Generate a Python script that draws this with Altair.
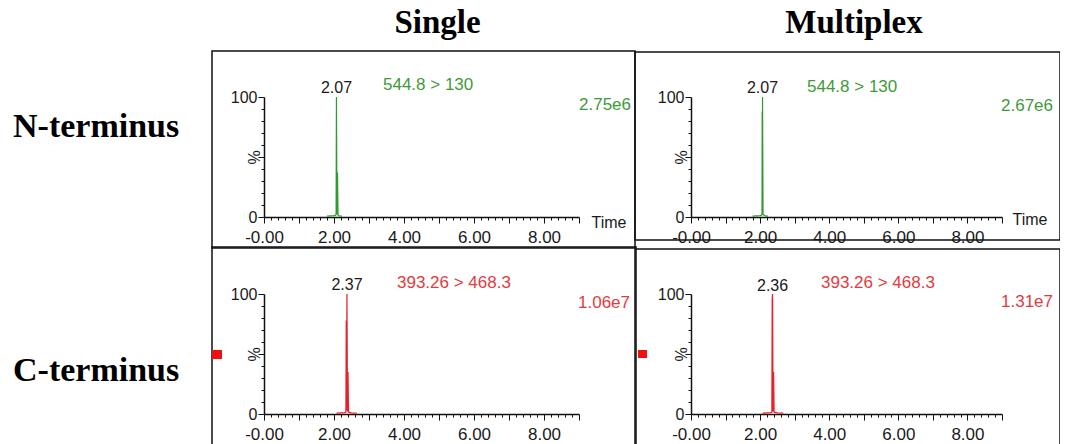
import altair as alt
import pandas as pd
import numpy as np

# ---------------- data ----------------
col_titles = ["Single", "Multiplex"]
row_titles = ["N-terminus", "C-terminus"]

# chromatogram traces: retention time (min) and relative intensity (%)
ns_time = [1.80, 1.90, 2.00, 2.05, 2.06, 2.07, 2.085, 2.10, 2.115, 2.15, 2.23]
ns_int = [0.8, 1.0, 1.2, 1.5, 2.5, 100, 2.0, 37, 1.5, 1.0, 0.8]
nm_time = [1.78, 1.90, 2.00, 2.04, 2.055, 2.06, 2.065, 2.07, 2.085, 2.15, 2.23]
nm_int = [0.8, 1.0, 1.2, 1.5, 2.0, 88, 3.0, 100, 2.0, 1.0, 0.8]
cs_time = [2.07, 2.20, 2.30, 2.34, 2.35, 2.36, 2.37, 2.385, 2.40, 2.415, 2.50, 2.65]
cs_int = [0.8, 1.0, 1.2, 1.5, 78, 3.0, 100, 2.0, 35, 1.5, 1.0, 0.8]
cm_time = [2.07, 2.20, 2.30, 2.34, 2.35, 2.36, 2.375, 2.39, 2.405, 2.50, 2.67]
cm_int = [0.8, 1.0, 1.2, 1.5, 96, 100, 2.0, 35, 1.5, 1.0, 0.8]

trace_times = [ns_time, nm_time, cs_time, cm_time]
trace_ints = [ns_int, nm_int, cs_int, cm_int]

peak_rt = [2.07, 2.07, 2.37, 2.36]
peak_labels = ["2.07", "2.07", "2.37", "2.36"]
transitions = ["544.8 > 130", "544.8 > 130", "393.26 > 468.3", "393.26 > 468.3"]
intensities = ["2.75e6", "2.67e6", "1.06e7", "1.31e7"]

x_tick_values = [0, 2, 4, 6, 8]
x_tick_labels = ["-0.00", "2.00", "4.00", "6.00", "8.00"]
y_tick_values = [0, 100]
y_tick_labels = ["0", "100"]

# ---------------- styling ----------------
GREEN_LINE = "#2f9a2f"
GREEN_TEXT = "#3f9a3a"
RED_LINE = "#e8202a"
RED_TEXT = "#e23a40"
INK = "#1a1a1a"
SANS = "Liberation Sans"
SERIF = "Liberation Serif"

trace_colors = [GREEN_LINE, GREEN_LINE, RED_LINE, RED_LINE]
text_colors = [GREEN_TEXT, GREEN_TEXT, RED_TEXT, RED_TEXT]

widths = [315, 311]
H = 120

x_minor = [float(round(v, 1)) for v in np.arange(0, 9.0001, 0.2)]
y_minor = list(range(0, 101, 10))

x_label_expr = " : ".join(
    f"abs(datum.value - {v}) < 0.001 ? '{l}'" for v, l in zip(x_tick_values, x_tick_labels)
) + " : ''"
y_label_expr = " : ".join(
    f"abs(datum.value - {v}) < 0.001 ? '{l}'" for v, l in zip(y_tick_values, y_tick_labels)
) + " : ''"

# per-panel pixel placements (relative to each plot area)
box = [(-52, 371, -46, 151), (-56, 369, -45, 143), (-52, 372, -47, 200), (-56, 369, -45, 200)]
trans_pos = [(119, -7), (116, -5), (133, -6), (130, -6)]
inten_pos = [(367, 13), (362, 14), (366, 14), (362, 13)]
peak_y = [-4, -4, -4, -3]
time_pos = [(327, 10), (321, 7)]
square_pos = {2: (-52, -42, 56, 65), 3: (-53, -44, 56, 64)}
one = pd.DataFrame({"k": [0]})


def panel(i):
    r, c = divmod(i, 2)
    w = widths[c]
    xs = alt.Scale(domain=[0, 9], nice=False, zero=False)
    ys = alt.Scale(domain=[0, 100], nice=False)

    x_kw = dict(
        values=x_minor,
        labelExpr=x_label_expr,
        tickSize={"condition": {"test": "abs(datum.value - round(datum.value)) < 0.01", "value": 6}, "value": 3},
        labelFlush=False,
        labelOverlap=False,
        labelPadding=6,
        labelFontSize=17,
    )
    if r == 0:
        tx, ty = time_pos[c]
        x_kw.update(title="Time", titleX=tx, titleY=ty, titleAlign="left", titleBaseline="alphabetic",
                    titleFontSize=16, titleFontWeight="normal", titleFont=SANS, titleColor=INK)
    else:
        x_kw.update(title=None)
    xaxis = alt.Axis(**x_kw)
    yaxis = alt.Axis(
        values=y_minor,
        labelExpr=y_label_expr,
        tickSize={"condition": {"test": "datum.value % 50 == 0", "value": 6}, "value": 3},
        labelPadding=1,
        labelFontSize=16,
        labelOverlap=False,
        title="%", titleX=-10, titleY=60, titleAngle=270, titleAlign="center",
        titleBaseline="middle", titleFontSize=16, titleFontWeight="normal", titleFont=SANS, titleColor=INK,
    )

    df = pd.DataFrame({"t": trace_times[i], "v": trace_ints[i]})
    line = alt.Chart(df).mark_line(color=trace_colors[i], strokeWidth=1.2).encode(
        x=alt.X("t:Q", scale=xs, axis=xaxis),
        y=alt.Y("v:Q", scale=ys, axis=yaxis),
    )

    x1, x2, y1, y2 = box[i]
    frame = alt.Chart(one).mark_rect(fillOpacity=0, stroke="#111111", strokeWidth=1.5).encode(
        x=alt.value(x1), x2=alt.value(x2), y=alt.value(y1), y2=alt.value(y2)
    )

    pk = pd.DataFrame({"t": [peak_rt[i]], "label": [peak_labels[i]]})
    peak_text = alt.Chart(pk).mark_text(
        font=SANS, fontSize=16, color=INK, align="center", baseline="alphabetic"
    ).encode(x=alt.X("t:Q", scale=xs, axis=xaxis), y=alt.value(peak_y[i]), text="label:N")

    tx, ty = trans_pos[i]
    trans_text = alt.Chart(one).mark_text(
        font=SANS, fontSize=17, color=text_colors[i], align="left", baseline="alphabetic"
    ).encode(x=alt.value(tx), y=alt.value(ty), text=alt.value(transitions[i]))

    ix, iy = inten_pos[i]
    inten_text = alt.Chart(one).mark_text(
        font=SANS, fontSize=17, color=text_colors[i], align="right", baseline="alphabetic"
    ).encode(x=alt.value(ix), y=alt.value(iy), text=alt.value(intensities[i]))

    layers = [frame, line, peak_text, trans_text, inten_text]

    if i in square_pos:
        a, b, cc, d = square_pos[i]
        layers.append(alt.Chart(one).mark_rect(color="#ee1111").encode(
            x=alt.value(a), x2=alt.value(b), y=alt.value(cc), y2=alt.value(d)))

    if c == 0:
        ry = 40 if r == 0 else 87
        layers.append(alt.Chart(one).mark_text(
            font=SERIF, fontSize=34, fontWeight="bold", color="#000000", align="left", baseline="alphabetic"
        ).encode(x=alt.value(-251), y=alt.value(ry), text=alt.value(row_titles[r])))
    if r == 0:
        cx = 173.5 if c == 0 else 163
        layers.append(alt.Chart(one).mark_text(
            font=SERIF, fontSize=33, fontWeight="bold", color="#000000", align="center", baseline="alphabetic"
        ).encode(x=alt.value(cx), y=alt.value(-64), text=alt.value(col_titles[c])))

    return alt.layer(*layers).properties(width=w, height=H)


panels = [panel(i) for i in range(4)]

chart = alt.concat(
    *panels, columns=2, spacing={"row": 77, "column": 112}, bounds="flush"
).properties(
    autosize=alt.AutoSizeParams(type="none"),
    padding={"left": 256, "top": 89, "right": 796, "bottom": 347},
).configure_view(
    strokeWidth=0
).configure_axis(
    domainColor="#111111", domainWidth=1.5, tickColor="#111111", tickWidth=1,
    labelFont=SANS, labelColor=INK, grid=False, labelOverlap=False,
)

chart.save("out.html", embed_options={"renderer": "svg", "actions": False})
